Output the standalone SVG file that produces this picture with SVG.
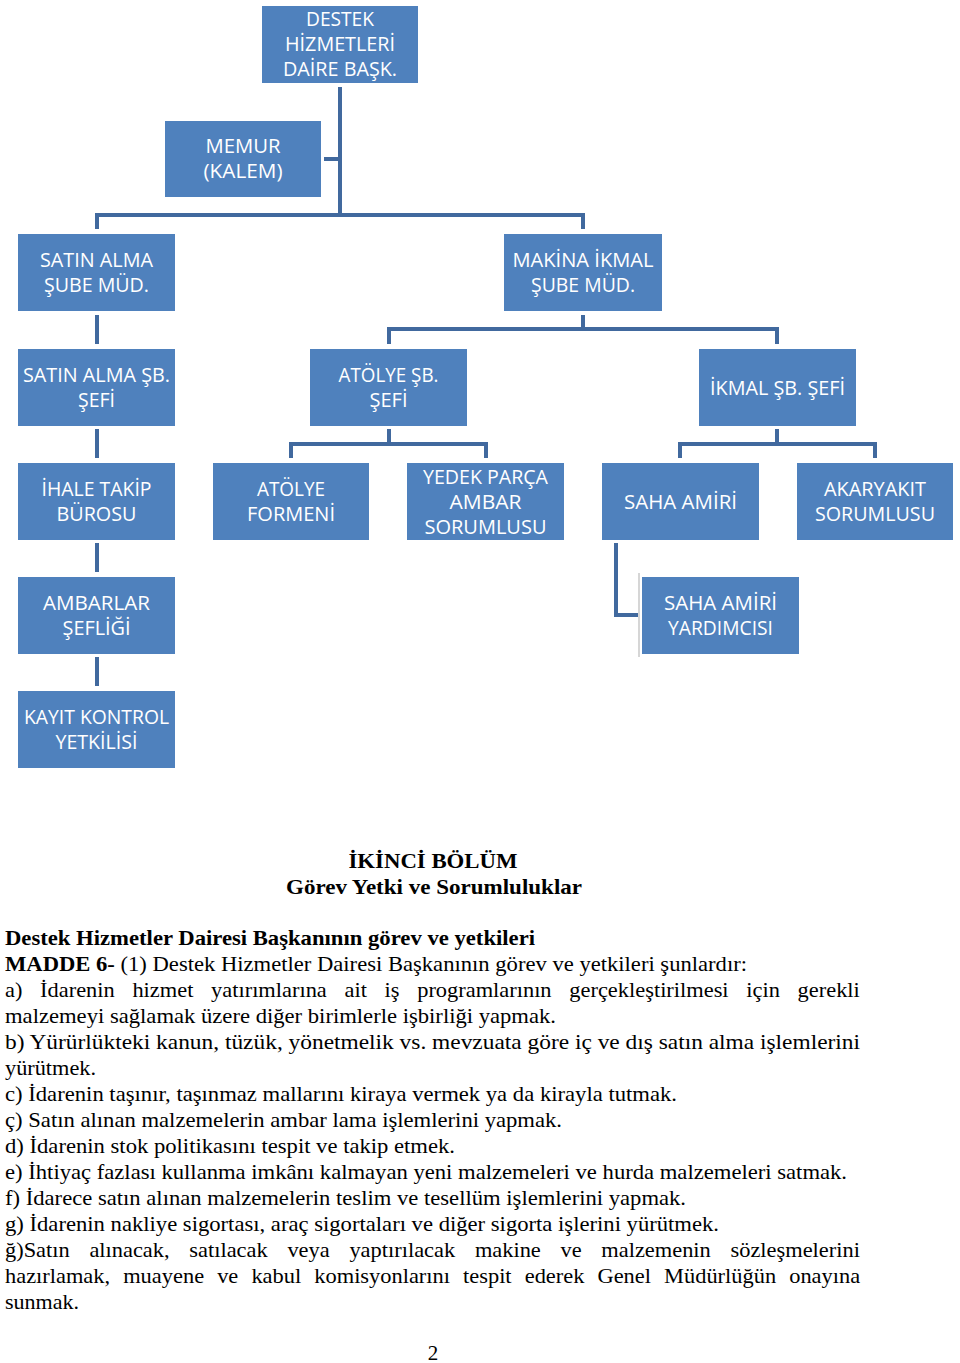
<svg xmlns="http://www.w3.org/2000/svg" width="960" height="1363" viewBox="0 0 960 1363">
<style>
.box{fill:#4F81BD}
.lbl{font-family:"Open Sans","Liberation Sans",sans-serif;font-size:20px;fill:#ffffff;text-anchor:middle}
.conn{stroke:#41699E;stroke-width:4;fill:none}
.body{font-family:"Liberation Serif","Times New Roman",serif;font-size:21px;fill:#000000}
.bold{font-weight:bold}
</style>
<rect width="960" height="1363" fill="#ffffff"/>
<g id="connectors">
<path class="conn" d="M340,87 V215"/>
<path class="conn" d="M324,159 H340"/>
<path class="conn" d="M97,229 V215 H583 V229"/>
<path class="conn" d="M97,315 V344"/>
<path class="conn" d="M97,429 V458"/>
<path class="conn" d="M97,543 V572"/>
<path class="conn" d="M97,657 V686"/>
<path class="conn" d="M583,315 V329"/>
<path class="conn" d="M389,344 V329 H777 V344"/>
<path class="conn" d="M389,429 V444"/>
<path class="conn" d="M291,458 V444 H486 V458"/>
<path class="conn" d="M777,429 V444"/>
<path class="conn" d="M680,458 V444 H875 V458"/>
<path class="conn" d="M616,543 V615 H638"/>
<path d="M639,573 V657" stroke="#c8c8c8" stroke-width="1.5" fill="none"/>
</g>
<g id="n-daire">
<rect class="box" x="262" y="6" width="156" height="77"/>
<text class="lbl" x="340" y="26" textLength="68" lengthAdjust="spacingAndGlyphs">DESTEK</text>
<text class="lbl" x="340" y="51" textLength="110" lengthAdjust="spacingAndGlyphs">HİZMETLERİ</text>
<text class="lbl" x="340" y="76" textLength="114" lengthAdjust="spacingAndGlyphs">DAİRE BAŞK.</text>
</g>
<g id="n-memur">
<rect class="box" x="165" y="121" width="156" height="76"/>
<text class="lbl" x="243" y="153" textLength="75" lengthAdjust="spacingAndGlyphs">MEMUR</text>
<text class="lbl" x="243" y="178" textLength="79" lengthAdjust="spacingAndGlyphs">(KALEM)</text>
</g>
<g id="n-satinalma-sube">
<rect class="box" x="18" y="234" width="157" height="77"/>
<text class="lbl" x="96.5" y="267" textLength="113" lengthAdjust="spacingAndGlyphs">SATIN ALMA</text>
<text class="lbl" x="96.5" y="292" textLength="105" lengthAdjust="spacingAndGlyphs">ŞUBE MÜD.</text>
</g>
<g id="n-makina-sube">
<rect class="box" x="504" y="234" width="158" height="77"/>
<text class="lbl" x="583" y="267" textLength="141" lengthAdjust="spacingAndGlyphs">MAKİNA İKMAL</text>
<text class="lbl" x="583" y="292" textLength="104" lengthAdjust="spacingAndGlyphs">ŞUBE MÜD.</text>
</g>
<g id="n-satinalma-sef">
<rect class="box" x="18" y="349" width="157" height="77"/>
<text class="lbl" x="96.5" y="382" textLength="147" lengthAdjust="spacingAndGlyphs">SATIN ALMA ŞB.</text>
<text class="lbl" x="96.5" y="407" textLength="37" lengthAdjust="spacingAndGlyphs">ŞEFİ</text>
</g>
<g id="n-atolye-sef">
<rect class="box" x="310" y="349" width="157" height="77"/>
<text class="lbl" x="388.5" y="382" textLength="100" lengthAdjust="spacingAndGlyphs">ATÖLYE ŞB.</text>
<text class="lbl" x="388.5" y="407" textLength="38" lengthAdjust="spacingAndGlyphs">ŞEFİ</text>
</g>
<g id="n-ikmal-sef">
<rect class="box" x="699" y="349" width="157" height="77"/>
<text class="lbl" x="777.5" y="394.5" textLength="135" lengthAdjust="spacingAndGlyphs">İKMAL ŞB. ŞEFİ</text>
</g>
<g id="n-ihale">
<rect class="box" x="18" y="463" width="157" height="77"/>
<text class="lbl" x="96.5" y="496" textLength="110" lengthAdjust="spacingAndGlyphs">İHALE TAKİP</text>
<text class="lbl" x="96.5" y="521" textLength="80" lengthAdjust="spacingAndGlyphs">BÜROSU</text>
</g>
<g id="n-atolye-formeni">
<rect class="box" x="213" y="463" width="156" height="77"/>
<text class="lbl" x="291" y="496" textLength="68" lengthAdjust="spacingAndGlyphs">ATÖLYE</text>
<text class="lbl" x="291" y="521" textLength="88" lengthAdjust="spacingAndGlyphs">FORMENİ</text>
</g>
<g id="n-yedek-parca">
<rect class="box" x="407" y="463" width="157" height="77"/>
<text class="lbl" x="485.5" y="483.5" textLength="125" lengthAdjust="spacingAndGlyphs">YEDEK PARÇA</text>
<text class="lbl" x="485.5" y="508.5" textLength="72" lengthAdjust="spacingAndGlyphs">AMBAR</text>
<text class="lbl" x="485.5" y="533.5" textLength="122" lengthAdjust="spacingAndGlyphs">SORUMLUSU</text>
</g>
<g id="n-saha-amiri">
<rect class="box" x="602" y="463" width="157" height="77"/>
<text class="lbl" x="680.5" y="508.5" textLength="113" lengthAdjust="spacingAndGlyphs">SAHA AMİRİ</text>
</g>
<g id="n-akaryakit">
<rect class="box" x="797" y="463" width="156" height="77"/>
<text class="lbl" x="875" y="496" textLength="102" lengthAdjust="spacingAndGlyphs">AKARYAKIT</text>
<text class="lbl" x="875" y="521" textLength="120" lengthAdjust="spacingAndGlyphs">SORUMLUSU</text>
</g>
<g id="n-ambarlar">
<rect class="box" x="18" y="577" width="157" height="77"/>
<text class="lbl" x="96.5" y="610" textLength="107" lengthAdjust="spacingAndGlyphs">AMBARLAR</text>
<text class="lbl" x="96.5" y="635" textLength="68" lengthAdjust="spacingAndGlyphs">ŞEFLİĞİ</text>
</g>
<g id="n-saha-yardimcisi">
<rect class="box" x="642" y="577" width="157" height="77"/>
<text class="lbl" x="720.5" y="610" textLength="113" lengthAdjust="spacingAndGlyphs">SAHA AMİRİ</text>
<text class="lbl" x="720.5" y="635" textLength="105" lengthAdjust="spacingAndGlyphs">YARDIMCISI</text>
</g>
<g id="n-kayit">
<rect class="box" x="18" y="691" width="157" height="77"/>
<text class="lbl" x="96.5" y="724" textLength="145" lengthAdjust="spacingAndGlyphs">KAYIT KONTROL</text>
<text class="lbl" x="96.5" y="749" textLength="82" lengthAdjust="spacingAndGlyphs">YETKİLİSİ</text>
</g>
<g id="text-block">
<text class="body bold" x="433" y="868" text-anchor="middle" textLength="169" lengthAdjust="spacingAndGlyphs">İKİNCİ BÖLÜM</text>
<text class="body bold" x="434" y="894" text-anchor="middle" textLength="296" lengthAdjust="spacingAndGlyphs">Görev Yetki ve Sorumluluklar</text>
<text class="body bold" x="5" y="945" textLength="530" lengthAdjust="spacingAndGlyphs">Destek Hizmetler Dairesi Başkanının görev ve yetkileri</text>
<text class="body" x="5" y="971" textLength="742" lengthAdjust="spacingAndGlyphs"><tspan class="bold">MADDE 6-</tspan> (1) Destek Hizmetler Dairesi Başkanının görev ve yetkileri şunlardır:</text>
<g id="line-a">
<text class="body" x="5" y="997" textLength="17.4" lengthAdjust="spacingAndGlyphs">a)</text>
<text class="body" x="40.1" y="997" textLength="74.6" lengthAdjust="spacingAndGlyphs">İdarenin</text>
<text class="body" x="132.4" y="997" textLength="61" lengthAdjust="spacingAndGlyphs">hizmet</text>
<text class="body" x="211.1" y="997" textLength="115.7" lengthAdjust="spacingAndGlyphs">yatırımlarına</text>
<text class="body" x="344.5" y="997" textLength="22.4" lengthAdjust="spacingAndGlyphs">ait</text>
<text class="body" x="384.6" y="997" textLength="14.9" lengthAdjust="spacingAndGlyphs">iş</text>
<text class="body" x="417.2" y="997" textLength="134.4" lengthAdjust="spacingAndGlyphs">programlarının</text>
<text class="body" x="569.3" y="997" textLength="159.3" lengthAdjust="spacingAndGlyphs">gerçekleştirilmesi</text>
<text class="body" x="746.3" y="997" textLength="33.6" lengthAdjust="spacingAndGlyphs">için</text>
<text class="body" x="797.6" y="997" textLength="62.2" lengthAdjust="spacingAndGlyphs">gerekli</text>
</g>
<text class="body" x="5" y="1023" textLength="551" lengthAdjust="spacingAndGlyphs">malzemeyi sağlamak üzere diğer birimlerle işbirliği yapmak.</text>
<text class="body" x="5" y="1049" textLength="855" lengthAdjust="spacingAndGlyphs">b) Yürürlükteki kanun, tüzük, yönetmelik vs. mevzuata göre iç ve dış satın alma işlemlerini</text>
<text class="body" x="5" y="1075" textLength="91" lengthAdjust="spacingAndGlyphs">yürütmek.</text>
<text class="body" x="5" y="1101" textLength="672" lengthAdjust="spacingAndGlyphs">c) İdarenin taşınır, taşınmaz mallarını kiraya vermek ya da kirayla tutmak.</text>
<text class="body" x="5" y="1127" textLength="557" lengthAdjust="spacingAndGlyphs">ç) Satın alınan malzemelerin ambar lama işlemlerini yapmak.</text>
<text class="body" x="5" y="1153" textLength="450" lengthAdjust="spacingAndGlyphs">d) İdarenin stok politikasını tespit ve takip etmek.</text>
<text class="body" x="5" y="1179" textLength="842" lengthAdjust="spacingAndGlyphs">e) İhtiyaç fazlası kullanma imkânı kalmayan yeni malzemeleri ve hurda malzemeleri satmak.</text>
<text class="body" x="5" y="1205" textLength="681" lengthAdjust="spacingAndGlyphs">f) İdarece satın alınan malzemelerin teslim ve tesellüm işlemlerini yapmak.</text>
<text class="body" x="5" y="1231" textLength="714" lengthAdjust="spacingAndGlyphs">g) İdarenin nakliye sigortası, araç sigortaları ve diğer sigorta işlerini yürütmek.</text>
<g id="line-g2">
<text class="body" x="5" y="1257" textLength="64.7" lengthAdjust="spacingAndGlyphs">ğ)Satın</text>
<text class="body" x="89.4" y="1257" textLength="80.2" lengthAdjust="spacingAndGlyphs">alınacak,</text>
<text class="body" x="189.3" y="1257" textLength="78.4" lengthAdjust="spacingAndGlyphs">satılacak</text>
<text class="body" x="287.4" y="1257" textLength="42.3" lengthAdjust="spacingAndGlyphs">veya</text>
<text class="body" x="349.4" y="1257" textLength="105.8" lengthAdjust="spacingAndGlyphs">yaptırılacak</text>
<text class="body" x="474.9" y="1257" textLength="65.9" lengthAdjust="spacingAndGlyphs">makine</text>
<text class="body" x="560.5" y="1257" textLength="21.1" lengthAdjust="spacingAndGlyphs">ve</text>
<text class="body" x="601.3" y="1257" textLength="109.5" lengthAdjust="spacingAndGlyphs">malzemenin</text>
<text class="body" x="730.5" y="1257" textLength="129.4" lengthAdjust="spacingAndGlyphs">sözleşmelerini</text>
</g>
<g id="line-h">
<text class="body" x="5" y="1283" textLength="105.1" lengthAdjust="spacingAndGlyphs">hazırlamak,</text>
<text class="body" x="123.2" y="1283" textLength="80.9" lengthAdjust="spacingAndGlyphs">muayene</text>
<text class="body" x="217.2" y="1283" textLength="21.1" lengthAdjust="spacingAndGlyphs">ve</text>
<text class="body" x="251.4" y="1283" textLength="49.8" lengthAdjust="spacingAndGlyphs">kabul</text>
<text class="body" x="314.3" y="1283" textLength="135.7" lengthAdjust="spacingAndGlyphs">komisyonlarını</text>
<text class="body" x="463.1" y="1283" textLength="48.5" lengthAdjust="spacingAndGlyphs">tespit</text>
<text class="body" x="524.7" y="1283" textLength="59.7" lengthAdjust="spacingAndGlyphs">ederek</text>
<text class="body" x="597.5" y="1283" textLength="53.5" lengthAdjust="spacingAndGlyphs">Genel</text>
<text class="body" x="664.1" y="1283" textLength="112" lengthAdjust="spacingAndGlyphs">Müdürlüğün</text>
<text class="body" x="789.2" y="1283" textLength="70.9" lengthAdjust="spacingAndGlyphs">onayına</text>
</g>
<text class="body" x="5" y="1309" textLength="74" lengthAdjust="spacingAndGlyphs">sunmak.</text>
<text class="body" x="433" y="1360" text-anchor="middle">2</text>
</g>
</svg>
